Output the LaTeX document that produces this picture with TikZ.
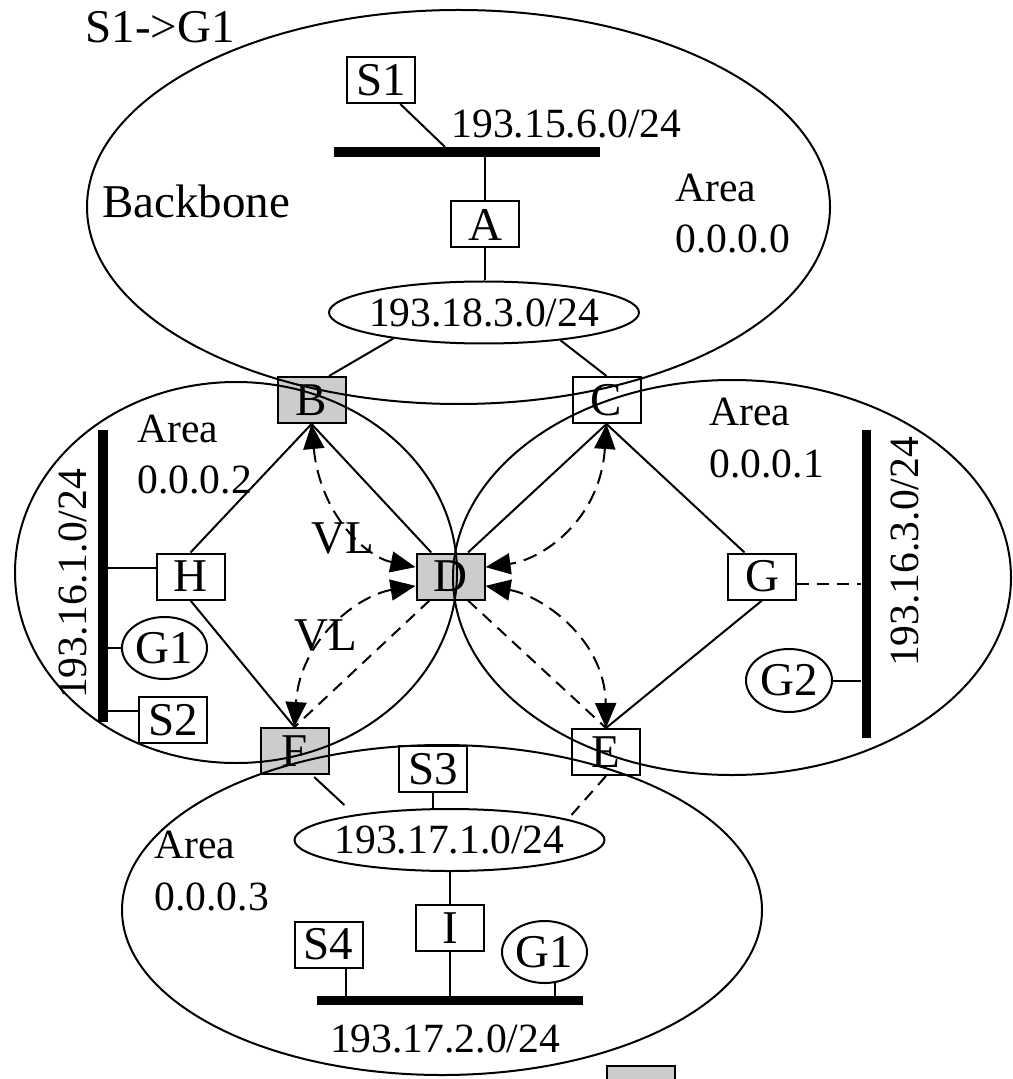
\documentclass[tikz,border=0pt]{standalone}
\usepackage{fontspec}
\setmainfont{Liberation Serif}
\usetikzlibrary{shapes.geometric,arrows.meta,calc}

\begin{document}
\begin{tikzpicture}[x=0.5pt,y=-0.5pt,
  every node/.style={inner sep=0pt},
  lbl/.style={font=\fontsize{23.5pt}{28pt}\selectfont},
  small/.style={font=\fontsize{20.8pt}{25pt}\selectfont},
  router/.style={draw, line width=1pt, fill=white, minimum width=34pt, minimum height=23pt, lbl},
  abr/.style={router, fill=black!20},
  host/.style={ellipse, draw, line width=1pt, fill=white, minimum width=42.5pt, minimum height=31pt, lbl},
  net/.style={ellipse, draw, line width=1pt, fill=white, inner xsep=-4pt, minimum width=155pt, minimum height=31pt, small},
  bus/.style={fill=black, inner sep=0pt},
  link/.style={line width=1pt},
  dlink/.style={line width=1pt, dash pattern=on 6pt off 4pt},
  vl/.style={line width=1pt, dash pattern=on 7pt off 4pt,
    {Triangle[length=12.5pt,width=10.5pt]}-{Triangle[length=12.5pt,width=10.5pt]}},
  area/.style={line width=1pt}
]
\useasboundingbox (0,0) rectangle (1012,1079);

% ---------- backbone (area 0.0.0.0) ----------
\node[router] (S1) at (381,80) {S1};
\node[bus, minimum width=133pt, minimum height=5pt] (bus1) at (467,152) {};
\node[router] (A) at (485,224.5) {A};
\node[net] (n18) at (484,312.5) {193.18.3.0/24};
\node[abr] (B) at (311.5,400) {B};
\node[router] (C) at (606.5,400) {C};

% ---------- areas 0.0.0.2 and 0.0.0.1 ----------
\node[abr] (D) at (450.5,576.5) {D};
\node[router] (H) at (190.5,576.5) {H};
\node[router] (G) at (762,576.5) {G};
\node[abr] (F) at (294.5,751) {F};
\node[router] (E) at (606,752) {E};
\node[bus, minimum width=5pt, minimum height=146pt] (bus3) at (103,576) {};
\node[host] (G1a) at (164.5,648) {G1};
\node[router] (S2) at (173,720) {S2};
\node[bus, minimum width=4.5pt, minimum height=154pt] (bus2) at (866,584) {};
\node[host, minimum width=43pt, minimum height=31.5pt] (G2) at (789,680.5) {G2};

% ---------- area 0.0.0.3 ----------
\node[router] (S3) at (433,769) {S3};
\node[net] (n17) at (449.5,840) {193.17.1.0/24};
\node[router] (I) at (450,928) {I};
\node[router] (S4) at (328.5,944.5) {S4};
\node[host] (G1b) at (544.5,952) {G1};
\node[bus, minimum width=133pt, minimum height=4.5pt] (bus4) at (450,1000.5) {};
\node[abr] (legend) at (641,1089) {};

% ---------- labels ----------
\node[lbl, anchor=base west] (title) at (85,43) {S1->G1};
\node[lbl, anchor=base west] (bbname) at (102,218) {Backbone};
\node[small, anchor=base] (n15lbl) at (566.5,138) {193.15.6.0/24};
\node[small, anchor=base west] (a0a) at (675,202) {Area};
\node[small, anchor=base west] (a0b) at (675,253) {0.0.0.0};
\node[small, anchor=base west] (a2a) at (137,442) {Area};
\node[small, anchor=base west] (a2b) at (137,493) {0.0.0.2};
\node[small, anchor=base west] (a1a) at (709,425) {Area};
\node[small, anchor=base west] (a1b) at (709,477) {0.0.0.1};
\node[small, anchor=base west] (a3a) at (154,858) {Area};
\node[small, anchor=base west] (a3b) at (154,910) {0.0.0.3};
\node[small, rotate=90] (n161lbl) at (73,584) {193.16.1.0/24};
\node[small, rotate=90] (n163lbl) at (905,552) {193.16.3.0/24};
\node[small, anchor=base] (n172lbl) at (445,1052) {193.17.2.0/24};
\node[lbl, anchor=base] (vl1) at (342.5,553) {VL};
\node[lbl, anchor=base] (vl2) at (326,650) {VL};

% ---------- links ----------
\coordinate (tapS1) at (445,147);
\draw[link] ($(S1.south)!.55!(S1.south east)$) -- (tapS1);
\draw[link] (A.north) -- (A.north |- bus1.south);
\draw[link] (A.south) -- (A.south |- n18.north);
\draw[link] (n18.196) -- ($(B.north)!.5!(B.north east)$);
\draw[link] (n18.340) -- (C.north);

\draw[link] (H.north) -- (B.south);
\draw[link] (B.south) -- ($(D.north west)!.45!(D.north)$);
\draw[link] (C.south) -- ($(D.north)!.5!(D.north east)$);
\draw[link] (C.south) -- ($(G.north west)!.5!(G.north)$);
\draw[link] (H.south) -- (F.north);
\draw[link] (G.south) -- (E.north);
\draw[dlink] ($(D.south west)!.4!(D.south)$) -- (F.north);
\draw[dlink] ($(D.south)!.5!(D.south east)$) -- (E.north);
\draw[dlink] (G.east |- bus2.west) -- (bus2.west);

\draw[link] (bus3.east |- H.166) -- (H.166);
\draw[link] (bus3.east |- G1a.west) -- (G1a.west);
\draw[link] (bus3.east |- S2.166) -- (S2.166);
\draw[link] (G2.east) -- (G2.east -| bus2.west);

\draw[link] (S3.south) -- (S3.south |- n17.north);
\draw[link, shorten <=1.5pt, shorten >=7pt] ($(F.south)!.5!(F.south east)$) -- (n17.165);
\draw[dlink] (E.south) -- (n17.10);
\draw[link] (I.north |- n17.south) -- (I.north);
\draw[link] (I.south) -- (I.south |- bus4.north);
\coordinate (tapS4) at ($(S4.south)!.5!(S4.south east)$);
\draw[link] (tapS4) -- (tapS4 |- bus4.north);
\draw[link] (G1b.-72) -- (G1b.-72 |- bus4.north);

% ---------- virtual links through area 0.0.0.2 / 0.0.0.1 ----------
\draw[vl] (B.south) .. controls +(8.5,90) and +(-50,-10.5) .. (D.165);
\draw[vl] (C.south) .. controls +(-6.5,97) and +(56,-7.5) .. (D.15);
\draw[vl] (D.195) .. controls +(-57,9.5) and +(5.5,-88) .. (F.north);
\draw[vl] (D.-15) .. controls +(56,9.5) and +(-1,-89) .. (E.north);

% ---------- area outlines ----------
\draw[area] (458.5,207) ellipse [x radius=185.75pt, y radius=98.5pt];
\draw[area] (236,572.5) ellipse [x radius=110.5pt, y radius=95.25pt];
\draw[area] (732,577.5) ellipse [x radius=139.5pt, y radius=98.75pt];
\draw[area] (442,910) ellipse [x radius=160pt, y radius=82.5pt];
\end{tikzpicture}
\end{document}
